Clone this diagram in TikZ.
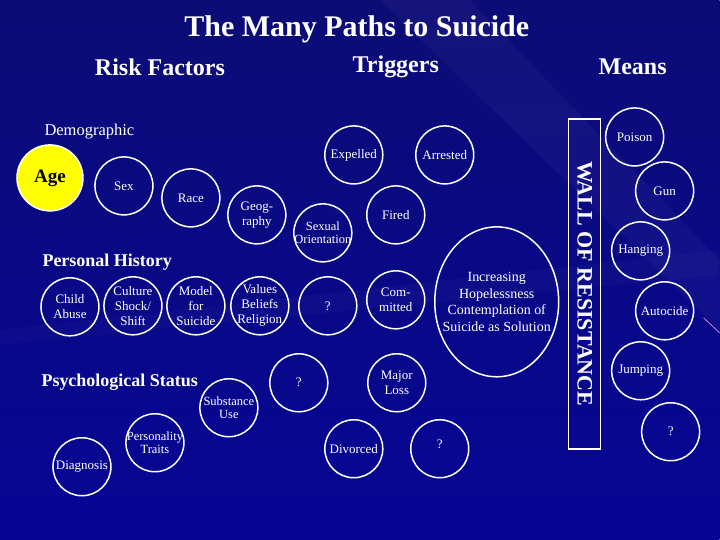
\documentclass[tikz,border=0pt]{standalone}
\usepackage{fontspec}
\setmainfont{Liberation Serif}
\usetikzlibrary{positioning,shapes.geometric}

\definecolor{deepblue}{RGB}{6,6,150}
\definecolor{navytop}{RGB}{12,12,118}
\definecolor{agegold}{RGB}{255,255,0}
\definecolor{streak}{RGB}{205,130,230}

\tikzset{
  bubble/.style={circle, draw=white, line width=1.5pt, minimum size=58pt, inner sep=0pt},
  txt/.style={text=white, align=center, font=\fontsize{13}{15}\selectfont, inner sep=0pt},
  small/.style={txt, font=\fontsize{12.5}{13.5}\selectfont},
  head/.style={text=white, font=\fontsize{24}{26}\selectfont\bfseries},
  section/.style={text=white, anchor=west, font=\fontsize{18}{20}\selectfont\bfseries},
}

\begin{document}
\begin{tikzpicture}[x=1pt, y=-1pt]
  % background
  \shade[top color=navytop, bottom color=deepblue] (0,0) rectangle (720,540);
  \fill[white, opacity=0.035] (380,0) -- (470,0) -- (720,260) -- (720,330) -- cycle;
  \fill[white, opacity=0.025] (0,330) -- (720,250) -- (720,275) -- (0,345) -- cycle;
  \draw[streak, line width=0.8pt] (704,318) -- (720,333);
  \useasboundingbox (0,0) rectangle (720,540);

  % headings
  \node[text=white, font=\fontsize{30}{32}\selectfont\bfseries] (title) at (357,29) {The Many Paths to Suicide};
  \node[head] (risk) at (160,67) {Risk Factors};
  \node[head] (trig) at (396,67) {Triggers};
  \node[head] (means) at (633,67) {Means};

  % risk factors
  \node[text=white, anchor=west, font=\fontsize{16.5}{18}\selectfont] (demo) at (41,132) {Demographic};
  \node[bubble, fill=agegold, minimum size=66pt, label={[txt, text=black, font=\fontsize{19}{20}\selectfont\bfseries]center:Age}] (age) at (50,178) {};
  \node[bubble, label={[txt]center:Sex}] (sex) at (124,186) {};
  \node[bubble, label={[txt]center:Race}] (race) at (191,198) {};
  \node[bubble, label={[txt]center:Geog-\\raphy}] (geo) at (257,215) {};
  \node[bubble, label={[small]center:Sexual\\Orientation}] (sexor) at (323,233) {};

  \node[section] (history) at (39,262) {Personal History};
  \node[bubble, label={[txt]center:Child\\Abuse}] (abuse) at (70,307) {};
  \node[bubble, label={[txt]center:Culture\\Shock/\\Shift}] (culture) at (133,306) {};
  \node[bubble, label={[txt]center:Model\\for\\Suicide}] (model) at (196,306) {};
  \node[bubble, label={[txt]center:Values\\Beliefs\\Religion}] (values) at (260,306) {};
  \node[bubble, label={[txt]center:?}] (q1) at (328,306) {};

  \node[section] (psych) at (38,382) {Psychological Status};
  \node[bubble, label={[txt]center:Diagnosis}] (diag) at (82,467) {};
  \node[bubble, label={[small]center:Personality\\Traits}] (traits) at (155,443) {};
  \node[bubble, label={[small]center:Substance\\Use}] (subst) at (229,408) {};
  \node[bubble, label={[txt]center:?}] (q2) at (299,383) {};

  % triggers
  \node[bubble, label={[txt]center:Expelled}] (expel) at (354,155) {};
  \node[bubble, label={[txt]center:Arrested}] (arrest) at (445,155) {};
  \node[bubble, label={[txt]center:Fired}] (fired) at (396,215) {};
  \node[bubble, label={[txt]center:Com-\\mitted}] (commit) at (396,300) {};
  \node[bubble, label={[txt]center:Major\\Loss}] (loss) at (397,383) {};
  \node[bubble, label={[txt]center:Divorced}] (divorce) at (354,449) {};
  \node[bubble, label={[txt, yshift=4pt]center:?}] (q3) at (440,449) {};
  \node[ellipse, draw=white, line width=1.5pt, minimum width=124pt, minimum height=150pt, inner sep=0pt,
        label={[txt, font=\fontsize{14}{16.5}\selectfont]center:Increasing\\Hopelessness\\Contemplation of\\Suicide as Solution}] (hope) at (497,302) {};

  % wall
  \node[draw=white, line width=1.5pt, minimum width=32pt, minimum height=330pt, inner sep=0pt] (wall) at (585,284) {};
  \node[text=white, rotate=-90, font=\fontsize{22}{24}\selectfont\bfseries] (walltxt) at (wall) {WALL OF RESISTANCE};

  % means
  \node[bubble, label={[txt]center:Poison}] (poison) at (635,137) {};
  \node[bubble, label={[txt]center:Gun}] (gun) at (665,191) {};
  \node[bubble, label={[txt]center:Hanging}] (hang) at (641,251) {};
  \node[bubble, label={[txt]center:Autocide}] (auto) at (665,311) {};
  \node[bubble, label={[txt]center:Jumping}] (jump) at (641,371) {};
  \node[bubble, label={[txt]center:?}] (q4) at (671,432) {};
\end{tikzpicture}
\end{document}
